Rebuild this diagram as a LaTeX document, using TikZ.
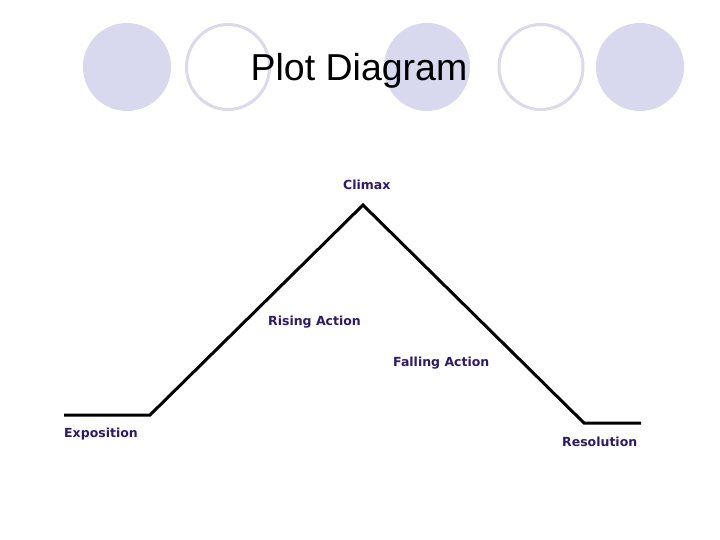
\documentclass[tikz,border=0pt]{standalone}
\usepackage{fontspec}
\setmainfont{Liberation Sans}
\newfontfamily\labelfont{DejaVu Sans}
\definecolor{disc}{HTML}{D8D8EE}
\definecolor{ring}{HTML}{DADAEA}
\definecolor{lbl}{HTML}{2E1A66}
\begin{document}
\begin{tikzpicture}[x=1pt,y=-1pt,
  filled/.style={fill=disc,draw=none},
  hollow/.style={draw=ring,line width=3pt,fill=white},
  plotline/.style={draw=black,line width=3pt,line join=miter},
  lab/.style={font=\labelfont\bfseries\fontsize{12.5}{14}\selectfont,text=lbl,inner sep=0pt,anchor=west}]
\useasboundingbox[fill=white] (0,0) rectangle (720,540);
% circles
\fill[filled] (127,67) ellipse (44 and 44);
\draw[hollow] (228,67) ellipse (41.5 and 42.5);
\fill[filled] (427,67) ellipse (43 and 44);
\draw[hollow] (541,67) ellipse (42 and 42.5);
\fill[filled] (640,67) ellipse (44 and 44);
\node (title) at (359,70.5) {\fontsize{37.5}{40}\selectfont Plot Diagram};
% plot line
\coordinate (e0) at (64,415);
\coordinate (e1) at (150,415);
\coordinate (peak) at (363,205);
\coordinate (r0) at (584,423);
\coordinate (r1) at (641,423);
\draw[plotline] (e0) -- (e1) -- (peak) -- (r0) -- (r1);
% labels
\node[lab] (climax) at (343,185) {Climax};
\node[lab] (rising) at (268,322) {Rising Action};
\node[lab] (falling) at (393,363) {Falling Action};
\node[lab] (expo) at (64,434) {Exposition};
\node[lab] (reso) at (562,442) {Resolution};
\end{tikzpicture}
\end{document}
